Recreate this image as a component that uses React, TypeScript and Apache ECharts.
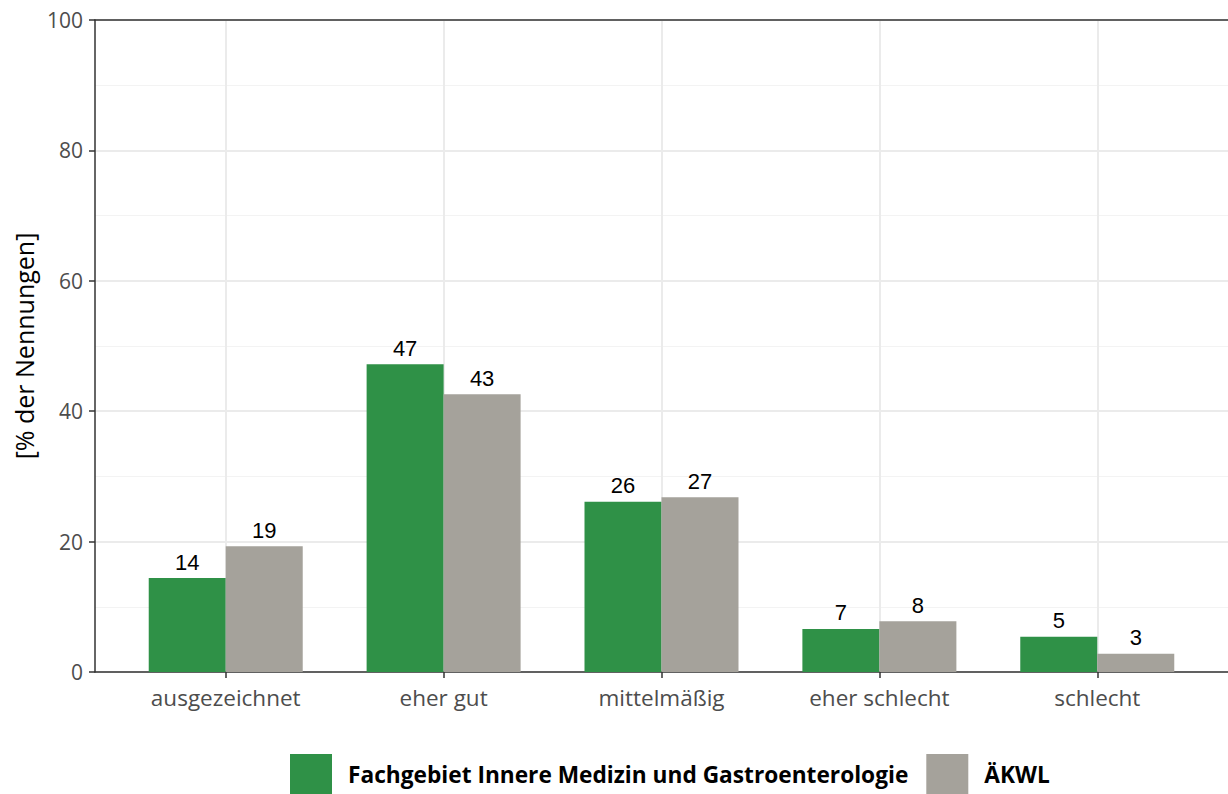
import React, { useEffect, useRef } from "react";
import * as echarts from "echarts";

const categories = ["ausgezeichnet", "eher gut", "mittelmäßig", "eher schlecht", "schlecht"];
const seriesNames = ["Fachgebiet Innere Medizin und Gastroenterologie", "ÄKWL"];
const fachValues = [14.4, 47.2, 26.1, 6.6, 5.4];
const aekwlValues = [19.3, 42.6, 26.8, 7.8, 2.8];
const yTicks = [0, 20, 40, 60, 80, 100];
const colors = ["#2f9147", "#a5a29b"];

export default function App() {
  const ref = useRef<HTMLDivElement>(null);
  useEffect(() => {
    if (!ref.current) return;
    const chart = echarts.init(ref.current, null, { renderer: "svg" });
    const idx = categories.map((_, i) => i);
    const labelStyle = {
      show: true,
      position: "top" as const,
      distance: 5,
      color: "#000",
      fontFamily: "Liberation Sans",
      fontSize: 22,
      formatter: (p: any) => String(Math.round(p.value[1])),
    };
    chart.setOption({
      animation: false,
      grid: { left: 95, right: -1, top: 20, bottom: 122, containLabel: false },
      xAxis: [
        {
          type: "value",
          min: -0.6,
          max: 4.6,
          axisLine: { show: true, onZero: false, lineStyle: { color: "#333", width: 1.5 } },
          axisTick: { show: true, customValues: idx, length: 6, lineStyle: { color: "#333", width: 1.5 } },
          axisLabel: {
            customValues: idx,
            formatter: (v: number) => categories[Math.round(v)] ?? "",
            color: "#4d4d4d",
            fontFamily: "Open Sans",
            fontSize: 22.5,
            margin: 14,
          },
          splitLine: { show: true, lineStyle: { color: "#ebebeb", width: 2 } },
        },
        {
          type: "value",
          position: "top",
          min: -0.6,
          max: 4.6,
          axisLine: { show: true, onZero: false, lineStyle: { color: "#333", width: 1.5 } },
          axisTick: { show: false },
          axisLabel: { show: false },
          splitLine: { show: false },
        },
      ],
      yAxis: {
        type: "value",
        min: yTicks[0],
        max: yTicks[yTicks.length - 1],
        interval: 20,
        name: "[% der Nennungen]",
        nameLocation: "middle",
        nameGap: 58,
        nameTextStyle: { color: "#000", fontFamily: "Open Sans", fontSize: 25 },
        axisLine: { show: true, onZero: false, lineStyle: { color: "#333", width: 1.5 } },
        axisTick: { show: true, length: 6, lineStyle: { color: "#333", width: 1.5 } },
        axisLabel: { color: "#4d4d4d", fontFamily: "Open Sans", fontSize: 21, margin: 12 },
        splitLine: { show: true, lineStyle: { color: "#ebebeb", width: 2 } },
        minorTick: { show: false, splitNumber: 2 },
        minorSplitLine: { show: true, lineStyle: { color: "#f3f3f3", width: 1 } },
      },
      legend: {
        bottom: 0,
        left: 290,
        padding: 0,
        itemWidth: 42,
        itemHeight: 40,
        itemGap: 18,
        icon: "rect",
        textStyle: { color: "#000", fontFamily: "Open Sans", fontSize: 22.7, fontWeight: "bold", padding: [0, 0, 0, 11] },
        data: seriesNames,
      },
      series: [
        {
          name: seriesNames[0],
          type: "bar",
          barWidth: 77,
          barGap: "0%",
          itemStyle: { color: colors[0] },
          label: labelStyle,
          data: fachValues.map((v, i) => [i, v]),
        },
        {
          name: seriesNames[1],
          type: "bar",
          barWidth: 77,
          barGap: "0%",
          itemStyle: { color: colors[1] },
          label: labelStyle,
          data: aekwlValues.map((v, i) => [i, v]),
        },
      ],
    });
    return () => chart.dispose();
  }, []);
  return (
    <div
      ref={ref}
      style={{ position: "absolute", left: 0, top: 0, width: 1228, height: 794, overflow: "hidden" }}
    />
  );
}
